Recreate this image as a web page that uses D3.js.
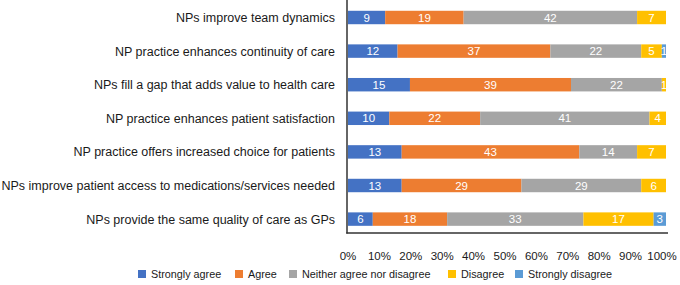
<!DOCTYPE html>
<html>
<head>
<meta charset="utf-8">
<script src="https://cdn.jsdelivr.net/npm/d3@7"></script>
<style>
  body { margin: 0; background: #fff; }
  svg { display: block; font-family: "Liberation Sans", Arial, Helvetica, sans-serif; }
</style>
</head>
<body>
<svg id="chart" width="680" height="285"></svg>
<script>
const categories = [
  "NPs improve team dynamics",
  "NP practice enhances continuity of care",
  "NPs fill a gap that adds value to health care",
  "NP practice enhances patient satisfaction",
  "NP practice offers increased choice for patients",
  "NPs improve patient access to medications/services needed",
  "NPs provide the same quality of care as GPs"
];
const seriesNames = ["Strongly agree", "Agree", "Neither agree nor disagree", "Disagree", "Strongly disagree"];
const stronglyAgree = [9, 12, 15, 10, 13, 13, 6];
const agree = [19, 37, 39, 22, 43, 29, 18];
const neither = [42, 22, 22, 41, 14, 29, 33];
const disagree = [7, 5, 1, 4, 7, 6, 17];
const stronglyDisagree = [0, 1, 0, 0, 0, 0, 3];
const tickLabels = ["0%", "10%", "20%", "30%", "40%", "50%", "60%", "70%", "80%", "90%", "100%"];
const colors = ["#4472C4", "#ED7D31", "#A5A5A5", "#FFC000", "#5B9BD5"];

const seriesValues = [stronglyAgree, agree, neither, disagree, stronglyDisagree];
const rows = categories.map((c, i) => {
  const r = { category: c };
  seriesNames.forEach((s, k) => r[s] = seriesValues[k][i]);
  return r;
});

const svg = d3.select("#chart");
const x = d3.scaleLinear().domain([0, 1]).range([348, 666]);
const y = d3.scaleBand().domain(categories).range([0.7, 235.9]).paddingInner(0.6).paddingOuter(0.3);

const stack = d3.stack().keys(seriesNames).offset(d3.stackOffsetExpand);
const stacked = stack(rows);

const layers = svg.append("g").selectAll("g")
  .data(stacked).enter().append("g")
  .attr("fill", (d, i) => colors[i]);

layers.selectAll("rect")
  .data(d => d.map(p => ({ p, key: d.key })))
  .enter().append("rect")
  .attr("x", d => x(d.p[0]))
  .attr("y", d => y(d.p.data.category))
  .attr("width", d => Math.max(0, x(d.p[1]) - x(d.p[0])))
  .attr("height", y.bandwidth());

layers.selectAll("text")
  .data(d => d.map(p => ({ p, key: d.key })).filter(o => o.p.data[o.key] > 0))
  .enter().append("text")
  .attr("x", d => (x(d.p[0]) + x(d.p[1])) / 2)
  .attr("y", d => y(d.p.data.category) + y.bandwidth() / 2)
  .attr("dy", "0.36em")
  .attr("text-anchor", "middle")
  .attr("fill", "#fff")
  .attr("font-size", 11.5)
  .text(d => d.p.data[d.key]);

// category labels
svg.append("g").selectAll("text")
  .data(categories).enter().append("text")
  .attr("x", 335)
  .attr("y", d => y(d) + y.bandwidth() / 2)
  .attr("dy", "0.36em")
  .attr("text-anchor", "end")
  .attr("font-size", 12.5)
  .attr("fill", "#1a1a1a")
  .text(d => d);

// frame lines
svg.append("line").attr("x1", 347).attr("x2", 347).attr("y1", 0).attr("y2", 233.5)
  .attr("stroke", "#333").attr("stroke-width", 1.5);
svg.append("line").attr("x1", 346.25).attr("x2", 668).attr("y1", 233).attr("y2", 233)
  .attr("stroke", "#333").attr("stroke-width", 1.5);

// x tick labels
const xt = d3.scaleLinear().domain([0, tickLabels.length - 1]).range([348, 662]);
svg.append("g").selectAll("text")
  .data(tickLabels).enter().append("text")
  .attr("x", (d, i) => xt(i))
  .attr("y", 256)
  .attr("dy", "0.36em")
  .attr("text-anchor", "middle")
  .attr("font-size", 11.5)
  .attr("fill", "#1a1a1a")
  .text(d => d);

// legend
const legendX = [138, 235, 289, 448, 515];
const lg = svg.append("g").selectAll("g")
  .data(seriesNames).enter().append("g")
  .attr("transform", (d, i) => `translate(${legendX[i]},274)`);
lg.append("rect").attr("x", 0).attr("y", -4).attr("width", 8).attr("height", 8)
  .attr("fill", (d, i) => colors[i]);
lg.append("text").attr("x", 13).attr("y", 0).attr("dy", "0.36em")
  .attr("font-size", 10.8).attr("fill", "#1a1a1a").text(d => d);
</script>
</body>
</html>
